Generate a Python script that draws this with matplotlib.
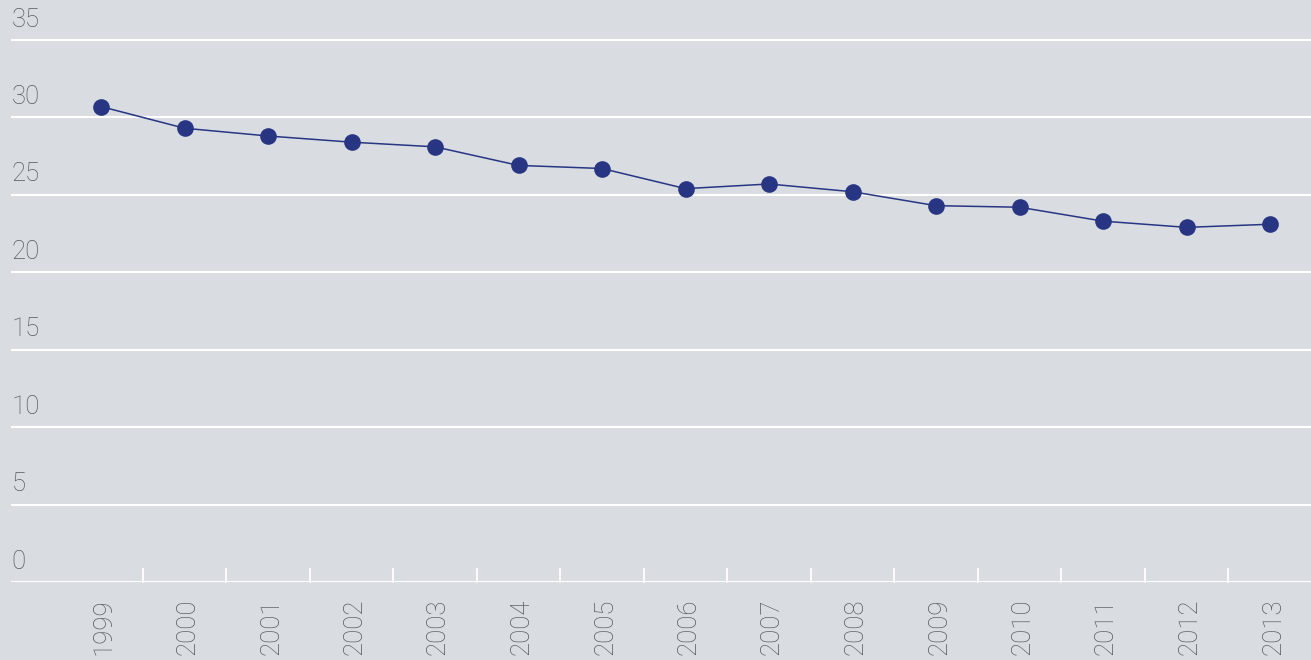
import matplotlib
matplotlib.use('Agg')
from matplotlib import pyplot as plt
from matplotlib import transforms

# data
years = ['1999', '2000', '2001', '2002', '2003', '2004', '2005', '2006',
         '2007', '2008', '2009', '2010', '2011', '2012', '2013']
values = [30.7, 29.3, 28.8, 28.4, 28.1, 26.9, 26.7, 25.4,
          25.7, 25.2, 24.3, 24.2, 23.3, 22.9, 23.1]
y_ticks = [0, 5, 10, 15, 20, 25, 30, 35]

bg = '#d9dde1'
line_col = '#283583'
txt_col = '#545b5c'

plt.rcParams['font.family'] = ['Roboto', 'DejaVu Sans']

fig = plt.figure(figsize=(13.11, 6.6), dpi=100, facecolor=bg)
W, H = 1311, 660
# axes: x from 11px to right edge, y from top edge to 582px
ax = fig.add_axes([11 / W, (H - 582) / H, 1 - 11 / W, 582 / H])
ax.set_facecolor(bg)

x = list(range(len(years)))
ax.set_xlim(-90 / 83.5, len(years) - 1 + 41 / 83.5)
ax.set_ylim(0, 35 + 40 / 15.5)

for v in y_ticks:
    ax.axhline(v, color='white', lw=1.5, zorder=1)
    ax.annotate(str(v), xy=(0, v), xycoords=('axes fraction', 'data'),
                xytext=(0.5, 6), textcoords='offset points',
                ha='left', va='bottom', fontsize=18.5, color=txt_col,
                fontweight='light')

ax.plot(x, values, color=line_col, lw=1.1, marker='o', markersize=12,
        markeredgewidth=0, zorder=3)

# short white ticks between the years
for i in range(len(years) - 1):
    ax.plot([i + 0.5, i + 0.5], [0, 13 / 15.5], color='white', lw=1.3,
            zorder=2, clip_on=False)

ax.set_xticks(x)
ax.set_xticklabels(years, rotation=90, fontsize=18.5, color=txt_col,
                   fontweight='light')
ax.tick_params(axis='x', length=0, pad=12)
shift = transforms.ScaledTranslation(3 / 100, 0, fig.dpi_scale_trans)
for lab in ax.get_xticklabels():
    lab.set_transform(lab.get_transform() + shift)
ax.set_yticks([])
for s in ax.spines.values():
    s.set_visible(False)

fig.savefig('out.png', dpi=100, facecolor=bg)
